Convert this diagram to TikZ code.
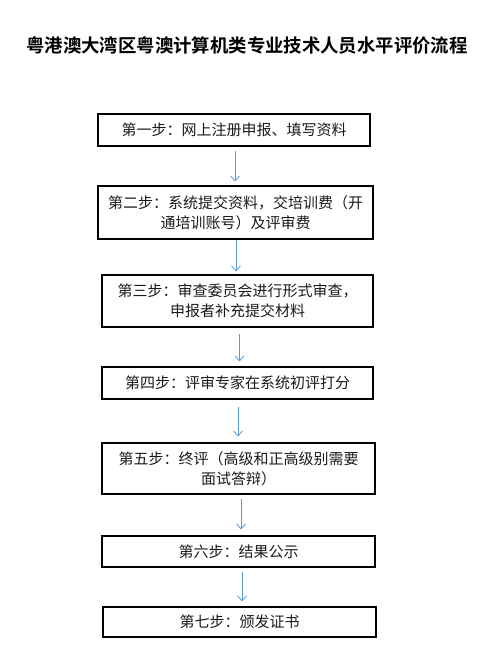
\documentclass[tikz,border=0pt]{standalone}
\usepackage{fontspec}
\setmainfont{Noto Sans CJK SC}[BoldFont={Noto Sans CJK SC Bold}]
\usetikzlibrary{arrows.meta}
\definecolor{arrblue}{HTML}{5B9BD5}
\definecolor{txt}{HTML}{1A1A1A}
\tikzset{
  stepbox/.style={draw=black, line width=1.1pt, inner sep=0pt, text=txt,
    font=\fontsize{15}{20}\selectfont, align=center},
  arr/.style={draw=arrblue, line width=0.8pt, -{Straight Barb[length=5pt,width=9pt]}}
}
\begin{document}
\begin{tikzpicture}[x=1pt,y=-1pt]
\useasboundingbox (0,0) rectangle (488,654);
\node[font=\bfseries\fontsize{18.4}{22}\selectfont, text=black, inner sep=0pt] (title) at (247,45) {粤港澳大湾区粤澳计算机类专业技术人员水平评价流程};
\node[stepbox, minimum width=272pt, minimum height=32pt] (s1) at (234,130) {第一步：网上注册申报、填写资料};
\node[stepbox, minimum width=275pt, minimum height=53pt] (s2) at (235.5,212.5) {第二步：系统提交资料，交培训费（开\\通培训账号）及评审费};
\node[stepbox, minimum width=271pt, minimum height=52pt] (s3) at (237.5,301) {第三步：审查委员会进行形式审查，\\申报者补充提交材料};
\node[stepbox, minimum width=271pt, minimum height=32pt] (s4) at (237.5,383) {第四步：评审专家在系统初评打分};
\node[stepbox, minimum width=273pt, minimum height=51pt] (s5) at (238.5,468.5) {第五步：终评（高级和正高级别需要\\面试答辩）};
\node[stepbox, minimum width=273pt, minimum height=31pt] (s6) at (238.5,551.5) {第六步：结果公示};
\node[stepbox, minimum width=273pt, minimum height=30pt] (s7) at (239.5,622) {第七步：颁发证书};
\draw[arr, shorten <=4pt, shorten >=4pt] ([xshift=1pt]s1.south) -- ([xshift=1pt]s1.south |- s2.north);
\draw[arr, shorten <=0pt, shorten >=3pt] ([xshift=0.5pt]s2.south) -- ([xshift=0.5pt]s2.south |- s3.north);
\draw[arr, shorten <=6pt, shorten >=5pt] ([xshift=2pt]s3.south) -- ([xshift=2pt]s3.south |- s4.north);
\draw[arr, shorten <=7pt, shorten >=6pt] ([xshift=0.5pt]s4.south) -- ([xshift=0.5pt]s4.south |- s5.north);
\draw[arr, shorten <=4pt, shorten >=6pt] ([xshift=2.5pt]s5.south) -- ([xshift=2.5pt]s5.south |- s6.north);
\draw[arr, shorten <=4pt, shorten >=5pt] ([xshift=3.5pt]s6.south) -- ([xshift=3.5pt]s6.south |- s7.north);
\end{tikzpicture}
\end{document}
